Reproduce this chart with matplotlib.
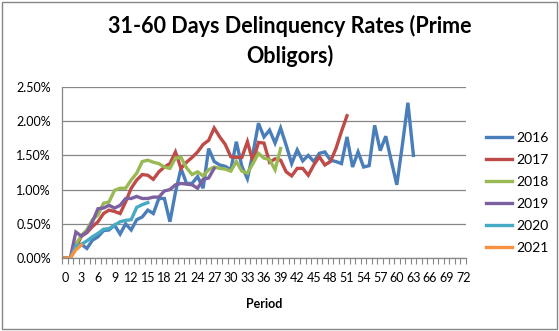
import matplotlib.pyplot as plt
from matplotlib.patches import Rectangle
from matplotlib.ticker import MultipleLocator, FuncFormatter

plt.rcParams['font.family'] = ['Lato', 'DejaVu Sans']

# delinquency rates in %, index = period
y2016 = [0.00, 0.00, 0.19, 0.20, 0.14, 0.26, 0.31, 0.40, 0.41, 0.48, 0.35, 0.50, 0.41, 0.56, 0.60, 0.70,
         0.65, 0.87, 0.87, 0.53, 0.96, 1.31, 1.09, 1.09, 1.19, 1.02, 1.60, 1.41, 1.36, 1.34, 1.29, 1.70,
         1.34, 1.16, 1.53, 1.97, 1.77, 1.87, 1.68, 1.90, 1.65, 1.38, 1.58, 1.42, 1.50, 1.41, 1.53, 1.55,
         1.43, 1.41, 1.38, 1.77, 1.33, 1.55, 1.33, 1.35, 1.94, 1.57, 1.78, 1.42, 1.07, 1.65, 2.27, 1.50]
y2017 = [0.00, 0.00, 0.15, 0.32, 0.37, 0.46, 0.53, 0.65, 0.70, 0.68, 0.65, 0.82, 1.02, 1.14, 1.22, 1.21,
         1.15, 1.26, 1.33, 1.38, 1.55, 1.31, 1.40, 1.47, 1.55, 1.66, 1.72, 1.90, 1.77, 1.66, 1.48, 1.47,
         1.47, 1.70, 1.41, 1.69, 1.68, 1.40, 1.45, 1.43, 1.26, 1.20, 1.31, 1.31, 1.21, 1.36, 1.48, 1.36,
         1.41, 1.60, 1.85, 2.08]
y2018 = [0.00, 0.00, 0.20, 0.33, 0.41, 0.56, 0.63, 0.80, 0.82, 0.99, 1.02, 1.02, 1.14, 1.24, 1.41, 1.43,
         1.40, 1.38, 1.33, 1.31, 1.46, 1.47, 1.32, 1.22, 1.26, 1.20, 1.29, 1.33, 1.31, 1.30, 1.27, 1.41,
         1.27, 1.24, 1.38, 1.53, 1.46, 1.44, 1.29, 1.60]
y2019 = [0.00, 0.00, 0.38, 0.32, 0.38, 0.53, 0.72, 0.73, 0.77, 0.73, 0.77, 0.87, 0.87, 0.90, 0.87, 0.87,
         0.89, 0.89, 0.98, 1.00, 1.07, 1.09, 1.08, 1.07, 1.02, 1.15, 1.17, 1.31]
y2020 = [0.00, 0.00, 0.18, 0.20, 0.25, 0.31, 0.36, 0.42, 0.43, 0.48, 0.53, 0.55, 0.56, 0.74, 0.78, 0.81]
y2021 = [0.00, 0.00, 0.12, 0.19]

series = [("2016", y2016, "#4A7EBB"), ("2017", y2017, "#BE4B48"), ("2018", y2018, "#98B954"),
          ("2019", y2019, "#7D60A0"), ("2020", y2020, "#46AAC5"), ("2021", y2021, "#F69240")]

fig = plt.figure(figsize=(5.59, 3.31), dpi=100)
ax = fig.add_axes([62 / 559, 1 - 258 / 331, (466 - 62) / 559, (258 - 87) / 331])

for name, vals, col in series:
    ax.plot(range(len(vals)), [v / 100 for v in vals], color=col, lw=2.4, label=name,
            solid_joinstyle='miter')

ax.set_xlim(-0.5, 72.5)
ax.set_ylim(0, 0.025)
ax.yaxis.set_major_locator(MultipleLocator(0.005))
ax.yaxis.set_major_formatter(FuncFormatter(lambda v, p: f"{v * 100:.2f}%"))
ax.set_xticks(range(0, 73, 3))
ax.set_xticks([i + 0.5 for i in range(-1, 73)], minor=True)
ax.tick_params(axis='x', which='major', length=0, labelsize=9, pad=10)
ax.tick_params(axis='x', which='minor', length=4, color='#868686', width=0.8)
ax.tick_params(axis='y', length=0, labelsize=9, pad=8)
ax.grid(axis='y', color='#868686', lw=0.9)
ax.set_axisbelow(True)
for s in ['top', 'right']:
    ax.spines[s].set_visible(False)
for s in ['left', 'bottom']:
    ax.spines[s].set_color('#868686')
    ax.spines[s].set_linewidth(0.9)

ax.set_xlabel("Period", fontweight='bold', fontsize=9, labelpad=10)
fig.suptitle("31-60 Days Delinquency Rates (Prime\nObligors)", fontweight='bold',
             fontsize=15.5, x=290 / 559, y=0.955, linespacing=1.45)

leg = fig.legend(loc='upper left', bbox_to_anchor=(486 / 559, 1 - 132 / 331), frameon=False,
                 fontsize=10, handlelength=1.9, handletextpad=0.25, labelspacing=0.72,
                 borderpad=0, borderaxespad=0)

fig.add_artist(Rectangle((0.003, 0.005), 0.994, 0.99, transform=fig.transFigure, fill=False,
                         edgecolor='#868686', lw=1))

fig.savefig("out.png", dpi=100)
